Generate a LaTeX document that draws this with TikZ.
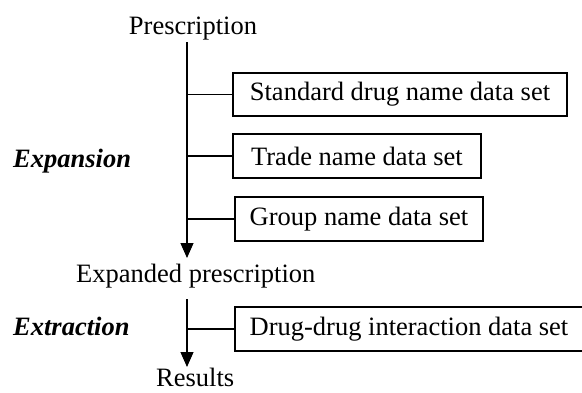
\documentclass[tikz,border=0pt]{standalone}
\usepackage{fontspec}
\setmainfont{Liberation Serif}
\usetikzlibrary{arrows.meta}
\begin{document}
\begin{tikzpicture}[x=1pt,y=-1pt,
  lbl/.style={font=\fontsize{26.5}{31}\selectfont, inner sep=0pt, anchor=base west},
  stage/.style={font=\fontsize{26.5}{31}\selectfont\bfseries\itshape, inner sep=0pt, anchor=base west},
  dbox/.style={draw, line width=1.1pt, inner sep=0pt, font=\fontsize{26.5}{31}\selectfont},
  flow/.style={line width=1.1pt, -{Triangle[width=13pt,length=15pt]}},
  branch/.style={line width=1.1pt}]
\useasboundingbox (0,0) rectangle (582,392);
% texts
\node[lbl, anchor=base] (presc) at (193,34) {Prescription};
\node[lbl] (expd) at (76,282) {Expanded prescription};
\node[lbl] (res) at (156,386) {Results};
\node[stage] (expn) at (13,167) {Expansion};
\node[stage] (extr) at (13,335) {Extraction};
% boxes
\node[dbox, minimum width=334pt, minimum height=43pt] (std) at (400,94.5) {Standard drug name data set};
\node[dbox, minimum width=248pt, minimum height=44pt] (trade) at (357,156) {Trade name data set};
\node[dbox, minimum width=248pt, minimum height=44pt] (group) at (359,219) {Group name data set};
\node[dbox, minimum width=348pt, minimum height=44pt] (ddi) at (409,329) {Drug-drug interaction data set};
% main flow lines
\coordinate (t1) at (187,42);
\coordinate (b1) at (187,258);
\coordinate (t2) at (187,299);
\coordinate (b2) at (187,367);
\draw[flow] (t1) -- (b1);
\draw[flow] (t2) -- (b2);
% branches
\draw[branch] (t1 |- std.west) -- (std.west);
\draw[branch] (t1 |- trade.west) -- (trade.west);
\draw[branch] (t1 |- group.west) -- (group.west);
\draw[branch] (t2 |- ddi.west) -- (ddi.west);
\end{tikzpicture}
\end{document}
